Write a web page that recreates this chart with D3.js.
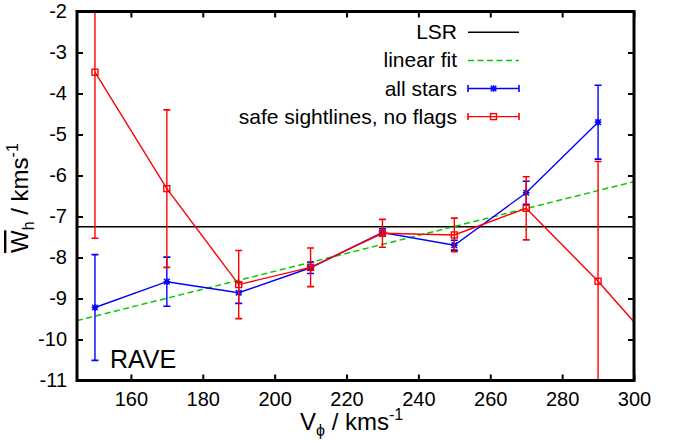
<!DOCTYPE html>
<html>
<head>
<meta charset="utf-8">
<script src="https://cdn.jsdelivr.net/npm/d3@7"></script>
<style>
  html, body { margin: 0; padding: 0; background: #fff; }
  svg { display: block; }
  text { font-family: "Liberation Sans", Arial, Helvetica, sans-serif; fill: #000; }
</style>
</head>
<body>
<svg id="chart" width="674" height="441"></svg>
<script>
// ---- data ----
const xTicks = [160, 180, 200, 220, 240, 260, 280, 300];
const yTicks = [-11, -10, -9, -8, -7, -6, -5, -4, -3, -2];

const allVphi = [150, 170, 190, 210, 230, 250, 270, 290];
const allW    = [-9.22, -8.59, -8.86, -8.25, -7.39, -7.70, -6.42, -4.70];
const allErr  = [1.29, 0.60, 0.26, 0.14, 0.09, 0.12, 0.28, 0.90];

const safeVphi = [150, 170, 190, 210, 230, 250, 270, 290, 310];
const safeW    = [-3.48, -6.32, -8.66, -8.24, -7.41, -7.45, -6.80, -8.58, -10.56];
const safeErr  = [4.05, 1.92, 0.83, 0.47, 0.34, 0.41, 0.77, 2.92, 3.00];

const lsrW = -7.25;
const fitVphi = [145, 300];
const fitW = [-9.54, -6.15];

const legendLabels = ["LSR", "linear fit", "all stars", "safe sightlines, no flags"];

// ---- layout ----
const svg = d3.select("#chart");
const L = 77, R = 634, T = 11.5, B = 380.5;
const x = d3.scaleLinear().domain([145, 300]).range([L, R]);
const y = d3.scaleLinear().domain([-11, -2]).range([B, T]);

const RED = "#ff0000", BLUE = "#0000ff", GREEN = "#00cc00";

svg.append("defs").append("clipPath").attr("id", "clip")
  .append("rect").attr("x", L).attr("y", T).attr("width", R - L).attr("height", B - T);

// ---- axes ----
const tickFont = "20px";
const axB = svg.append("g").attr("transform", `translate(0,${B})`)
  .call(d3.axisBottom(x).tickValues(xTicks).tickSize(-6).tickPadding(11).tickFormat(d3.format("d")));
const axL = svg.append("g").attr("transform", `translate(${L},0)`)
  .call(d3.axisLeft(y).tickValues(yTicks).tickSize(-6).tickPadding(10).tickFormat(d => String(d).replace("\u2212", "-")));
const axT = svg.append("g").attr("transform", `translate(0,${T})`)
  .call(d3.axisTop(x).tickValues(xTicks).tickSize(-6).tickFormat(""));
const axR = svg.append("g").attr("transform", `translate(${R},0)`)
  .call(d3.axisRight(y).tickValues(yTicks).tickSize(-6).tickFormat(""));
[axB, axL, axT, axR].forEach(a => {
  a.select(".domain").remove();
  a.selectAll(".tick line").attr("stroke", "#000").attr("stroke-width", 2);
  a.selectAll(".tick text").style("font-size", tickFont).attr("fill", "#000")
    .style("font-family", '"Liberation Sans", Arial, sans-serif');
});

// ---- plot contents ----
const plot = svg.append("g").attr("clip-path", "url(#clip)");

// LSR
plot.append("line")
  .attr("x1", L).attr("x2", R).attr("y1", y(lsrW)).attr("y2", y(lsrW))
  .attr("stroke", "#000").attr("stroke-width", 1.4);

// linear fit
plot.append("path")
  .datum(fitVphi.map((v, i) => [v, fitW[i]]))
  .attr("d", d3.line().x(d => x(d[0])).y(d => y(d[1])))
  .attr("fill", "none").attr("stroke", GREEN).attr("stroke-width", 1.5)
  .attr("stroke-dasharray", "6,3.5");

const cap = 3.5;
function starPath(cx, cy, s) {
  return `M${cx - s},${cy - s}L${cx + s},${cy + s}M${cx - s},${cy + s}L${cx + s},${cy - s}` +
         `M${cx - s * 1.2},${cy}L${cx + s * 1.2},${cy}M${cx},${cy - s * 1.2}L${cx},${cy + s * 1.2}`;
}
function drawSeries(vs, ws, es, color, marker) {
  const pts = vs.map((v, i) => ({ v, w: ws[i], e: es[i] }));
  const g = plot.append("g");
  g.append("path").datum(pts)
    .attr("d", d3.line().x(d => x(d.v)).y(d => y(d.w)))
    .attr("fill", "none").attr("stroke", color).attr("stroke-width", 1.4);
  const eb = g.selectAll(".eb").data(pts).enter().append("g");
  eb.append("line")
    .attr("x1", d => x(d.v)).attr("x2", d => x(d.v))
    .attr("y1", d => y(d.w + d.e)).attr("y2", d => y(d.w - d.e))
    .attr("stroke", color).attr("stroke-width", 1.4);
  [1, -1].forEach(sgn => {
    eb.append("line")
      .attr("x1", d => x(d.v) - cap).attr("x2", d => x(d.v) + cap)
      .attr("y1", d => y(d.w + sgn * d.e)).attr("y2", d => y(d.w + sgn * d.e))
      .attr("stroke", color).attr("stroke-width", 1.6);
  });
  eb.each(function (d) { marker(d3.select(this), x(d.v), y(d.w)); });
}
const starMarker = (sel, cx, cy) => sel.append("path").attr("d", starPath(cx, cy, 2.8))
  .attr("stroke", BLUE).attr("stroke-width", 1.5).attr("fill", "none");
const squareMarker = (sel, cx, cy) => sel.append("rect")
  .attr("x", cx - 3).attr("y", cy - 3).attr("width", 6).attr("height", 6)
  .attr("fill", "none").attr("stroke", RED).attr("stroke-width", 1.4);

drawSeries(allVphi, allW, allErr, BLUE, starMarker);
drawSeries(safeVphi, safeW, safeErr, RED, squareMarker);

// ---- frame ----
svg.append("rect").attr("x", L).attr("y", T).attr("width", R - L).attr("height", B - T)
  .attr("fill", "none").attr("stroke", "#000").attr("stroke-width", 3);

// ---- legend ----
const lg = svg.append("g");
const lgTextX = 457, lgX1 = 468, lgX2 = 519, lgY0 = 32.3, lgDy = 28.1;
legendLabels.forEach((lab, i) => {
  const yy = lgY0 + i * lgDy;
  lg.append("text").attr("x", lgTextX).attr("y", yy + 7).attr("text-anchor", "end")
    .style("font-size", "21px").text(lab);
  const mid = (lgX1 + lgX2) / 2;
  if (i === 0) {
    lg.append("line").attr("x1", lgX1).attr("x2", lgX2).attr("y1", yy).attr("y2", yy)
      .attr("stroke", "#000").attr("stroke-width", 1.4);
  } else if (i === 1) {
    lg.append("line").attr("x1", lgX1).attr("x2", lgX2).attr("y1", yy).attr("y2", yy)
      .attr("stroke", GREEN).attr("stroke-width", 1.5).attr("stroke-dasharray", "6,3.5");
  } else {
    const color = i === 2 ? BLUE : RED;
    const g = lg.append("g");
    g.append("line").attr("x1", lgX1).attr("x2", lgX2).attr("y1", yy).attr("y2", yy)
      .attr("stroke", color).attr("stroke-width", 1.4);
    [lgX1, lgX2].forEach(xx => g.append("line").attr("x1", xx).attr("x2", xx)
      .attr("y1", yy - cap).attr("y2", yy + cap).attr("stroke", color).attr("stroke-width", 1.6));
    (i === 2 ? starMarker : squareMarker)(g, mid, yy);
  }
});

// ---- RAVE label ----
svg.append("text").attr("x", 110).attr("y", 368).style("font-size", "25px").text("RAVE");

// ---- axis titles ----
const xt = svg.append("text").attr("x", 300).attr("y", 430).style("font-size", "24px");
xt.append("tspan").text("V");
xt.append("tspan").attr("dy", 6).style("font-size", "16px").text("\u03d5");
xt.append("tspan").attr("dy", -6).text(" / kms");
xt.append("tspan").attr("dy", -10).style("font-size", "16px").text("-1");

const yt = svg.append("text").attr("transform", "translate(28,253) rotate(-90)").style("font-size", "24px");
yt.append("tspan").style("text-decoration", "overline").text("W");
yt.append("tspan").attr("dy", 6).style("font-size", "16px").text("h");
yt.append("tspan").attr("dy", -6).text(" / kms");
yt.append("tspan").attr("dy", -10).style("font-size", "16px").text("-1");
</script>
</body>
</html>
